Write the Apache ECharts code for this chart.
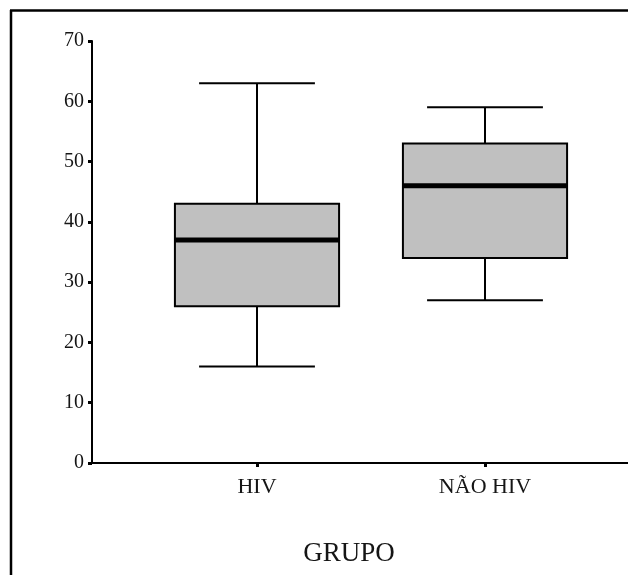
<!DOCTYPE html>
<html>
<head>
<meta charset="utf-8">
<script src="https://cdn.jsdelivr.net/npm/echarts@6/dist/echarts.min.js"></script>
<style>
  html, body { margin: 0; padding: 0; background: #ffffff; }
  #chart { width: 628px; height: 575px; }
</style>
</head>
<body>
<div id="chart"></div>
<script>
// ---- data ----
const categories = ['HIV', 'NÃO HIV'];
const categoryPositions = [1, 2];
const whiskerLow = [16, 27];
const quartile1 = [26, 34];
const medians = [37, 46];
const quartile3 = [43, 53];
const whiskerHigh = [63, 59];
const yTicks = [0, 10, 20, 30, 40, 50, 60, 70];
const xAxisTitle = 'GRUPO';

// ---- styling constants ----
const FONT = "'Liberation Serif', 'Times New Roman', serif";
const BOX_HALF = 0.36;      // in x-axis units
const WHISKER_HALF = 0.254; // in x-axis units

const seriesData = categories.map((c, i) => [
  categoryPositions[i], whiskerLow[i], quartile1[i], medians[i], quartile3[i], whiskerHigh[i]
]);

const chart = echarts.init(document.getElementById('chart'), null, { renderer: 'canvas' });

chart.setOption({
  backgroundColor: '#ffffff',
  animation: false,
  grid: { left: 92, right: 0, top: 41, bottom: 112, containLabel: false },
  xAxis: {
    type: 'value',
    min: 0.2763,
    max: 2.6272,
    splitLine: { show: false },
    axisLine: { show: true, onZero: false, lineStyle: { color: '#000', width: 2 } },
    axisTick: { show: true, customValues: categoryPositions, length: 4, lineStyle: { color: '#000', width: 3 } },
    axisLabel: {
      show: true,
      customValues: categoryPositions,
      formatter: v => categories[categoryPositions.indexOf(Math.round(v))] || '',
      fontFamily: FONT, fontSize: 22, color: '#151515', margin: 13
    }
  },
  yAxis: {
    type: 'value',
    min: 0, max: 70, interval: 10,
    splitLine: { show: false },
    axisLine: { show: true, lineStyle: { color: '#000', width: 2 } },
    axisTick: { show: true, length: 4, lineStyle: { color: '#000', width: 3 } },
    axisLabel: {
      fontFamily: FONT, fontSize: 20, color: '#151515', margin: 8,
      formatter: v => yTicks.includes(v) ? String(v) : ''
    }
  },
  graphic: [
    { type: 'line', shape: { x1: 10, y1: 10.5, x2: 628, y2: 10.5 }, style: { stroke: '#000', lineWidth: 2.5 } },
    { type: 'line', shape: { x1: 11, y1: 10, x2: 11, y2: 575 }, style: { stroke: '#000', lineWidth: 2.5 } },
    { type: 'text', x: 349, y: 554, style: { text: xAxisTitle, font: '27px ' + FONT, fill: '#151515', textAlign: 'center', textVerticalAlign: 'middle' } }
  ],
  series: [{
    type: 'custom',
    data: seriesData,
    encode: { x: 0, y: [1, 2, 3, 4, 5] },
    renderItem: function (params, api) {
      const x = api.value(0);
      const lo = api.value(1), q1 = api.value(2), med = api.value(3), q3 = api.value(4), hi = api.value(5);
      const boxTL = api.coord([x - BOX_HALF, q3]);
      const boxBR = api.coord([x + BOX_HALF, q1]);
      const cHi = api.coord([x, hi]);
      const cLo = api.coord([x, lo]);
      const wL = api.coord([x - WHISKER_HALF, hi]);
      const wR = api.coord([x + WHISKER_HALF, hi]);
      const wLl = api.coord([x - WHISKER_HALF, lo]);
      const wRl = api.coord([x + WHISKER_HALF, lo]);
      const mL = api.coord([x - BOX_HALF, med]);
      const mR = api.coord([x + BOX_HALF, med]);
      const ls = { stroke: '#000', lineWidth: 2 };
      return {
        type: 'group',
        children: [
          { type: 'line', shape: { x1: cHi[0], y1: cHi[1], x2: cHi[0], y2: boxTL[1] }, style: ls },
          { type: 'line', shape: { x1: cLo[0], y1: cLo[1], x2: cLo[0], y2: boxBR[1] }, style: ls },
          { type: 'line', shape: { x1: wL[0], y1: wL[1], x2: wR[0], y2: wR[1] }, style: ls },
          { type: 'line', shape: { x1: wLl[0], y1: wLl[1], x2: wRl[0], y2: wRl[1] }, style: ls },
          { type: 'rect', shape: { x: boxTL[0], y: boxTL[1], width: boxBR[0] - boxTL[0], height: boxBR[1] - boxTL[1] },
            style: { fill: '#c0c0c0', stroke: '#000', lineWidth: 2 } },
          { type: 'line', shape: { x1: mL[0], y1: mL[1], x2: mR[0], y2: mR[1] }, style: { stroke: '#000', lineWidth: 5 } }
        ]
      };
    }
  }]
});
</script>
</body>
</html>
